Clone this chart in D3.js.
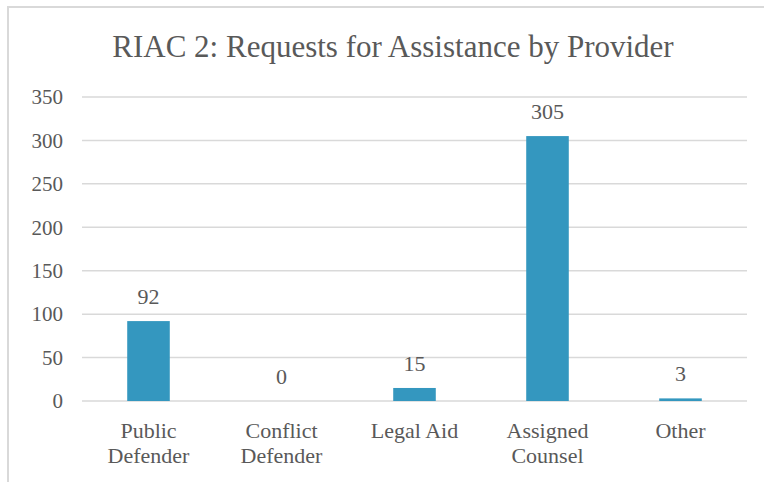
<!DOCTYPE html>
<html>
<head>
<meta charset="utf-8">
<script src="https://d3js.org/d3.v7.min.js"></script>
<style>
  body { margin: 0; background: #fff; }
  svg { display: block; }
</style>
</head>
<body>
<svg id="chart"></svg>
<script>
// data
const categories = [["Public", "Defender"], ["Conflict", "Defender"], ["Legal Aid"], ["Assigned", "Counsel"], ["Other"]];
const values = [92, 0, 15, 305, 3];
const yTicks = [0, 50, 100, 150, 200, 250, 300, 350];
const title = "RIAC 2: Requests for Assistance by Provider";

const FONT = "'Liberation Serif', Tinos, 'Times New Roman', Times, 'DejaVu Serif', serif";
const W = 764, H = 482;
const margin = { top: 97, right: 17, bottom: 81, left: 82 };
const width = W - margin.left - margin.right;
const height = H - margin.top - margin.bottom;

const svg = d3.select("#chart").attr("width", W).attr("height", H)
  .style("font-family", FONT);

// outer frame (cut off on right / bottom like the source)
svg.append("path")
  .attr("d", `M8,${H + 2}V7H${W + 2}`)
  .attr("fill", "none")
  .attr("stroke", "#d9d9d9")
  .attr("stroke-width", 2);

svg.append("text")
  .attr("x", 393)
  .attr("y", 57)
  .attr("text-anchor", "middle")
  .attr("fill", "#595959")
  .style("font-family", FONT)
  .style("font-size", "31px")
  .text(title);

const g = svg.append("g").attr("transform", `translate(${margin.left},${margin.top})`);

const idx = d3.range(values.length);
const x = d3.scaleBand().domain(idx).range([0, width]).paddingInner(0.68).paddingOuter(0.34);
const y = d3.scaleLinear().domain([0, 350]).range([height, 0]);

// gridlines
g.selectAll(".grid").data(yTicks).enter().append("line")
  .attr("x1", 0).attr("x2", width)
  .attr("y1", d => y(d)).attr("y2", d => y(d))
  .attr("stroke", "#d9d9d9").attr("stroke-width", 1.5);

// y axis labels
const yAxis = d3.axisLeft(y).tickValues(yTicks).tickSize(0).tickPadding(19);
const yg = g.append("g").call(yAxis).attr("font-family", null).attr("font-size", null);
yg.select(".domain").remove();
yg.selectAll("text")
  .attr("fill", "#595959")
  .style("font-family", FONT)
  .style("font-size", "21px");

// bars
g.selectAll(".bar").data(idx).enter().append("rect")
  .attr("x", i => x(i))
  .attr("y", i => y(values[i]))
  .attr("width", x.bandwidth())
  .attr("height", i => y(0) - y(values[i]))
  .attr("fill", "#3497bf");

// value labels
g.selectAll(".val").data(idx).enter().append("text")
  .attr("x", i => x(i) + x.bandwidth() / 2)
  .attr("y", i => y(values[i]) - 17)
  .attr("text-anchor", "middle")
  .attr("fill", "#595959")
  .style("font-family", FONT)
  .style("font-size", "22px")
  .text(i => values[i]);

// x category labels
const cat = g.selectAll(".cat").data(idx).enter().append("text")
  .attr("text-anchor", "middle")
  .attr("transform", i => `translate(${x(i) + x.bandwidth() / 2},${height + 37})`)
  .attr("fill", "#595959")
  .style("font-family", FONT)
  .style("font-size", "22px");
cat.selectAll("tspan").data(i => categories[i]).enter().append("tspan")
  .attr("x", 0)
  .attr("dy", (d, k) => k === 0 ? 0 : 25)
  .text(d => d);
</script>
</body>
</html>
